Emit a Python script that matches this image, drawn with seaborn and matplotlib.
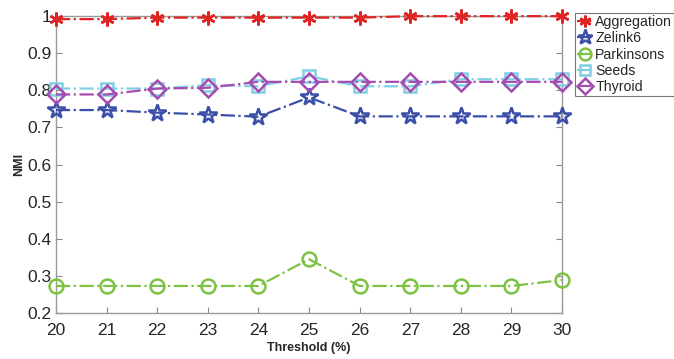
import pandas as pd
import matplotlib
matplotlib.use("Agg")
import matplotlib.pyplot as plt
import seaborn as sns

# Data
threshold = [20, 21, 22, 23, 24, 25, 26, 27, 28, 29, 30]
aggregation = [0.992, 0.992, 0.996, 0.996, 0.996, 0.996, 0.996, 1.0, 1.0, 1.0, 1.0]
zelink6 = [0.747, 0.747, 0.740, 0.735, 0.729, 0.781, 0.730, 0.730, 0.730, 0.730, 0.730]
parkinsons = [0.273, 0.273, 0.273, 0.273, 0.273, 0.345, 0.273, 0.273, 0.273, 0.273, 0.289]
seeds = [0.805, 0.805, 0.805, 0.814, 0.811, 0.838, 0.811, 0.811, 0.830, 0.830, 0.830]
thyroid = [0.789, 0.789, 0.805, 0.807, 0.823, 0.823, 0.823, 0.823, 0.823, 0.823, 0.823]

series = ["Aggregation", "Zelink6", "Parkinsons", "Seeds", "Thyroid"]
colors = ["#e02424", "#3b4ea8", "#7dc242", "#7fd0e3", "#a54cb0"]
markers = [(6, 2, 0), "*", "o", "s", "D"]
sizes = [10, 13, 10, 9, 9]

df = pd.DataFrame({
    "Threshold": threshold * 5,
    "NMI": aggregation + zelink6 + parkinsons + seeds + thyroid,
    "Dataset": sum([[s] * len(threshold) for s in series], []),
})

sns.set_style("white")
plt.rcParams["font.family"] = ["Liberation Sans", "DejaVu Sans"]

fig, ax = plt.subplots(figsize=(6.74, 3.59), dpi=100)

for name, c, m, ms in zip(series, colors, markers, sizes):
    sub = df[df["Dataset"] == name]
    sns.lineplot(data=sub, x="Threshold", y="NMI", ax=ax, color=c,
                 linestyle="-.", linewidth=1.6, marker=m, markersize=ms,
                 markerfacecolor="none", markeredgecolor=c, markeredgewidth=1.8,
                 label=name, clip_on=False, zorder=3)

ax.set_xlim(20, 30)
ax.set_ylim(0.2, 1.0)
ax.set_xticks(threshold)
ax.set_yticks([0.2, 0.3, 0.4, 0.5, 0.6, 0.7, 0.8, 0.9, 1.0])
ax.set_yticklabels(["0.2", "0.3", "0.4", "0.5", "0.6", "0.7", "0.8", "0.9", "1"])
ax.tick_params(axis="both", direction="in", labelsize=12.5, colors="#888888",
               labelcolor="#262626", length=4, width=0.8, right=True,
               bottom=True, left=True, pad=3)
ax.tick_params(axis="x", pad=7)
for sp in ax.spines.values():
    sp.set_color("#999999")
    sp.set_linewidth(1.0)

ax.set_xlabel("Threshold (%)", fontsize=9, fontweight="bold", labelpad=3)
ax.set_ylabel("NMI", fontsize=9, fontweight="bold", labelpad=2)

leg = ax.legend(loc="upper left", bbox_to_anchor=(1.025, 1.01), fontsize=10.2,
                frameon=True, fancybox=False, edgecolor="#555555",
                borderpad=0.15, labelspacing=0.15, handlelength=1.2,
                handletextpad=0.1, borderaxespad=0, markerscale=0.85)
leg.get_frame().set_linewidth(0.8)

fig.subplots_adjust(left=0.083, right=0.834, top=0.955, bottom=0.128)
fig.savefig("out.png", dpi=100)
